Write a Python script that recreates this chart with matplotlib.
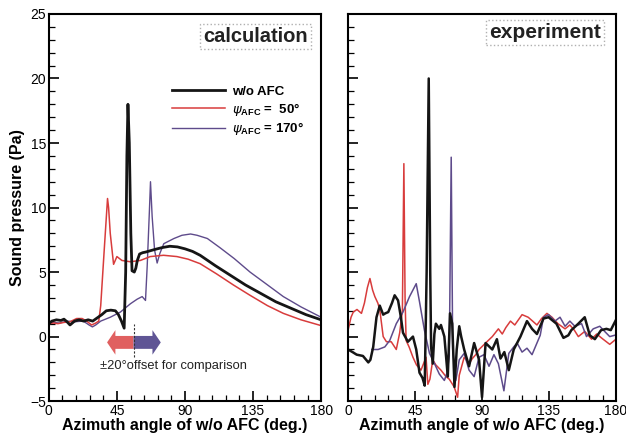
import matplotlib
matplotlib.use("Agg")
import matplotlib.pyplot as plt
from matplotlib.patches import FancyArrow
from matplotlib.ticker import MultipleLocator

plt.rcParams["font.family"] = ["Liberation Sans", "DejaVu Sans"]
plt.rcParams["mathtext.fontset"] = "custom"
plt.rcParams["mathtext.rm"] = "Liberation Sans:bold"
plt.rcParams["mathtext.it"] = "DejaVu Sans:italic"

# --- calculation: w/o AFC (black) ---
calc_black_x = [0, 2, 5, 8, 10, 12, 14, 17, 20, 23, 26, 29, 32, 35, 38, 41, 44, 46, 48, 49.8,
                50.8, 51.6, 52.3, 53.2, 54.2, 55.0, 56.5, 57.5, 58.5, 60, 62, 64, 67, 70, 75,
                80, 85, 90, 95, 100, 110, 120, 130, 140, 150, 160, 170, 180]
calc_black_y = [1.0, 1.2, 1.3, 1.25, 1.35, 1.15, 0.9, 1.2, 1.3, 1.2, 1.3, 1.2, 1.45, 1.7, 2.0, 2.05, 2.0, 1.7, 1.2, 0.65,
                5.0, 14.0, 18.0, 15.0, 8.0, 5.1, 5.0, 5.3, 5.9, 6.4, 6.5, 6.55, 6.65, 6.75, 6.9,
                7.0, 6.95, 6.8, 6.6, 6.3, 5.5, 4.75, 4.0, 3.35, 2.7, 2.2, 1.7, 1.3]

# --- calculation: psi_AFC = 50 deg (red) ---
calc_red_x = [0, 3, 6, 10, 14, 18.4, 22, 25, 28.3, 31, 33, 34.3, 36.5, 38.2, 38.8, 39.5, 40.6, 42.8,
              45, 48.3, 53.8, 60.5, 67, 75.8, 84.7, 92, 100, 111, 122, 133, 144.5, 155, 166.7, 180]
calc_red_y = [1.0, 1.05, 1.0, 1.1, 1.15, 1.4, 1.4, 1.2, 0.9, 1.05, 1.2, 2.4, 6.5, 9.6, 10.7, 10.0, 8.0, 5.6,
              6.2, 5.9, 5.8, 5.9, 6.2, 6.3, 6.2, 6.0, 5.65, 4.85, 4.0, 3.2, 2.4, 1.8, 1.3, 0.85]

# --- calculation: psi_AFC = 170 deg (purple) ---
calc_purple_x = [0, 3, 7, 12, 17, 22.8, 26.6, 28.8, 31, 34.3, 40.6, 47.3, 54, 58.4, 61.7, 63.9, 65,
                 66.5, 67.2, 68.3, 69.9, 71.6, 73.4, 76, 82.7, 88, 93.7, 98, 104.8, 113, 122.5, 133,
                 144.6, 155, 166.7, 180]
calc_purple_y = [1.0, 1.1, 1.05, 1.2, 1.15, 1.2, 0.9, 0.75, 0.9, 1.2, 1.5, 1.9, 2.55, 2.9, 3.1, 2.8, 5.4,
                 9.8, 12.0, 9.3, 6.7, 5.7, 6.45, 7.2, 7.6, 7.85, 7.95, 7.85, 7.6, 6.9, 6.05, 5.0,
                 4.0, 3.1, 2.3, 1.5]

# --- experiment: w/o AFC (black) ---
exp_black_x = [0, 3, 5.8, 10, 13.6, 15, 16.9, 19.1, 21.3, 23.6, 25, 27, 29.5, 31.3, 33.6, 35.5, 36.9,
               40.2, 43.6, 45.8, 48, 50, 51.5, 52.8, 54.2, 55.2, 55.8, 56.9, 58, 59, 61.3, 62.4,
               64.7, 67, 68.5, 70, 71.5, 73, 74.7, 76, 78, 81.3, 84.7, 88, 90, 92.4, 96.9, 100,
               102.4, 105, 108, 111.3, 115.8, 120.2, 123.6, 126.9, 131.3, 134.7, 140, 144.7, 148,
               150, 154.7, 159, 162.4, 165.8, 170, 173.6, 176.5, 180]
exp_black_y = [-1.0, -1.2, -1.4, -1.5, -2.0, -1.8, -0.8, 1.5, 2.4, 1.7, 1.8, 1.9, 2.6, 3.2, 2.8, 1.5, 0.3,
               -0.4, 0.0, -1.0, -2.8, -3.2, -3.8, 5.0, 20.0, 5.0, -0.8, -2.1, 0.2, 1.0, 0.6, 0.9,
               0.0, -3.1, 1.8, 1.0, -3.9, -1.0, 0.8, 0.0, -1.0, -2.3, -0.5, -1.8, -4.7, -0.5, -1.0, -0.2,
               -1.7, -1.2, -2.6, -1.0, 0.0, 1.2, 0.6, 0.2, 1.4, 1.5, 1.0, -0.1, 0.1,
               0.5, 1.0, 1.5, 0.1, -0.2, 0.5, 0.6, 0.5, 1.3]

# --- experiment: psi_AFC = 50 deg (red) ---
exp_red_x = [0, 2, 3.5, 6, 9, 11, 13, 14.7, 16.5, 18, 20, 21.3, 23.6, 25.8, 29, 32.4, 34.7, 36.5,
             37.5, 38.3, 39, 41, 43.6, 46, 49, 52.4, 53.6, 55, 56.9, 59, 62.4, 65.8, 68, 71.3,
             73.6, 74.7, 78, 81.3, 83.5, 85.8, 88, 92.4, 96.9, 101, 103.6, 106, 109.1, 112, 116.9,
             121, 124, 126.9, 130, 133.6, 137, 141, 145.8, 149, 152, 154.7, 159, 163.6, 167,
             171.3, 175.8, 180]
exp_red_y = [0.5, 1.5, 1.9, 2.1, 1.8, 2.6, 3.8, 4.5, 3.6, 3.1, 2.6, 2.1, 0.0, -0.4, -0.4, -1.0, 0.3, 2.0,
             13.4, 3.0, -0.3, -0.8, -1.6, -2.2, -2.6, -1.6, -3.7, -3.3, -1.8, -2.2, -2.6, -3.1, -3.3, -3.9,
             -4.7, -3.0, -1.6, -2.1, -1.7, -1.4, -1.0, -0.5, 0.0, 0.6, 0.2, 0.7, 1.2, 0.9, 1.7,
             1.5, 1.2, 0.9, 1.4, 1.8, 1.5, 1.0, 0.6, 0.9, 0.5, 0.0, 0.4, -0.2, 0.2,
             -0.2, -0.6, -0.2]

# --- experiment: psi_AFC = 170 deg (purple) ---
exp_purple_x = [16, 20.2, 24.7, 28, 32.4, 36.9, 41.3, 45.8, 48, 51.3, 54.7, 56.9, 61.3, 64.7, 66.5,
                68, 69.3, 70.3, 72.4, 74.7, 78, 81.3, 84.7, 88, 91.3, 94.7, 98, 101, 104.7, 108,
                111.3, 113.6, 116.9, 120.2, 123.6, 125.8, 129.1, 131.3, 134.7, 139, 142.4, 145.8,
                149, 152.4, 156.9, 160.2, 164.7, 169.1, 172.4, 175.8, 179]
exp_purple_y = [-1.0, -1.0, -0.8, -0.3, 1.0, 1.9, 3.1, 4.1, 2.7, 0.5, -1.3, -1.8, -2.9, -3.4, -2.8,
                -1.5, 13.9, -1.0, -3.4, -1.8, -1.3, -2.6, -3.1, -1.6, -1.4, -2.3, -1.4, -2.1, -4.2, -1.3,
                -0.8, -0.5, -1.2, -0.9, -1.4, -0.8, 0.1, 1.5, 1.7, 1.2, 1.5, 0.8,
                1.2, 0.8, 1.0, 0.0, 0.6, 0.8, 0.4, 0.0, 0.1]

legend_labels = ["w/o AFC", r"$\psi_{\rm AFC}$ =  50°", r"$\psi_{\rm AFC}$ = 170°"]
x_ticks = [0, 45, 90, 135, 180]
y_ticks = [-5, 0, 5, 10, 15, 20, 25]

RED = "#d83c3c"
PURPLE = "#5e4b8b"
BLACK = "#151515"

fig = plt.figure(figsize=(6.26, 4.36), dpi=100)
ax_calc = fig.add_axes([0.078, 0.080, 0.435, 0.888])
ax_exp = fig.add_axes([0.556, 0.080, 0.428, 0.888])

for ax in (ax_calc, ax_exp):
    ax.set_xlim(0, 180)
    ax.set_ylim(-5, 25)
    ax.set_xticks(x_ticks)
    ax.set_yticks(y_ticks)
    ax.xaxis.set_minor_locator(MultipleLocator(9))
    ax.yaxis.set_minor_locator(MultipleLocator(1))
    ax.tick_params(which="both", direction="in", top=False, right=False, labelsize=10, pad=2)
    ax.tick_params(which="major", length=7, width=1.2)
    ax.tick_params(which="minor", length=4, width=0.9)
    for sp in ax.spines.values():
        sp.set_linewidth(1.5)
    ax.set_xlabel("Azimuth angle of w/o AFC (deg.)", fontsize=11.5, fontweight="bold", labelpad=0)

ax_exp.tick_params(labelleft=False)
ax_calc.set_ylabel("Sound pressure (Pa)", fontsize=11.5, fontweight="bold", labelpad=4)

# calculation curves
l_purple, = ax_calc.plot(calc_purple_x, calc_purple_y, color=PURPLE, lw=1.0)
l_red, = ax_calc.plot(calc_red_x, calc_red_y, color=RED, lw=1.1)
l_black, = ax_calc.plot(calc_black_x, calc_black_y, color=BLACK, lw=2.0)

# experiment curves
ax_exp.plot(exp_red_x, exp_red_y, color=RED, lw=1.1)
ax_exp.plot(exp_purple_x, exp_purple_y, color=PURPLE, lw=1.1)
ax_exp.plot(exp_black_x, exp_black_y, color=BLACK, lw=1.8)

# legend (only on the calculation panel)
ax_calc.legend([l_black, l_red, l_purple], legend_labels, loc="upper left",
               bbox_to_anchor=(0.41, 0.845), frameon=False, handlelength=4.0,
               labelspacing=0.2, handletextpad=0.5, prop={"weight": "bold", "size": 9.5})

# panel titles in dotted boxes
box = dict(boxstyle="square,pad=0.15", facecolor="white", edgecolor="#b0b0b0", linestyle=":", lw=1)
ax_calc.text(0.76, 0.942, "calculation", transform=ax_calc.transAxes, fontsize=14.5,
             fontweight="bold", ha="center", va="center", bbox=box, color="#222222")
ax_exp.text(0.735, 0.952, "experiment", transform=ax_exp.transAxes, fontsize=15,
            fontweight="bold", ha="center", va="center", bbox=box, color="#222222")

# +-20 deg offset arrows
ax_calc.add_patch(FancyArrow(56, -0.45, -17.5, 0, width=1.0, head_width=1.9, head_length=5.5,
                             length_includes_head=True, color="#e06060", lw=0))
ax_calc.add_patch(FancyArrow(56, -0.45, 18.0, 0, width=1.0, head_width=1.9, head_length=5.5,
                             length_includes_head=True, color="#5f5595", lw=0))
ax_calc.plot([56, 56], [-1.6, 1.0], color="#333333", lw=0.8, ls=(0, (2, 1.5)))
ax_calc.text(34, -2.3, "±20°offset for comparison", fontsize=9.3, ha="left", va="center",
             color="#222222")

fig.savefig("out.png", dpi=100)
